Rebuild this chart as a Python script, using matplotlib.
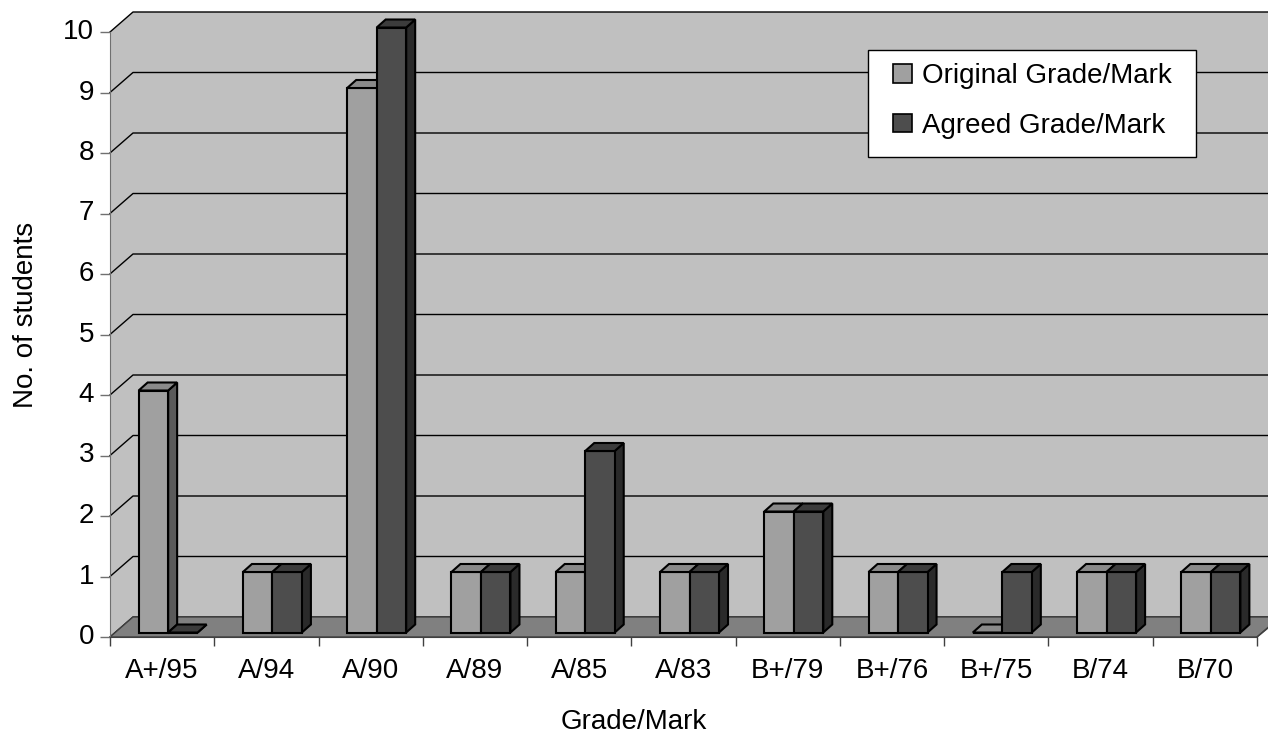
import matplotlib.pyplot as plt
import matplotlib.transforms as mtransforms
from matplotlib.patches import Polygon, Patch, Rectangle

# data
categories = ["A+/95", "A/94", "A/90", "A/89", "A/85", "A/83",
              "B+/79", "B+/76", "B+/75", "B/74", "B/70"]
original = [4, 1, 9, 1, 1, 1, 2, 1, 0, 1, 1]
agreed = [0, 1, 10, 1, 3, 1, 2, 1, 1, 1, 1]
series_names = ["Original Grade/Mark", "Agreed Grade/Mark"]

plt.rcParams["font.family"] = ["Liberation Sans", "DejaVu Sans"]
FS = 20

W, H = 1268, 736
fig = plt.figure(figsize=(W / 100, H / 100), dpi=100)
fig.patch.set_facecolor("white")

# front plane of the pseudo 3D box, in pixels
left_px, right_px = 110, 1257
bot_px, top_px = 637, 32
ax = fig.add_axes([left_px / W, 1 - bot_px / H,
                   (right_px - left_px) / W, (bot_px - top_px) / H])
n = len(categories)
ymax = 10
ax.set_xlim(0, n)
ax.set_ylim(0, ymax)
ax.patch.set_visible(False)

# data units per pixel
px = n / (right_px - left_px)
py = ymax / (bot_px - top_px)

# wall depth
DX, DY = 23 * px, 20 * py

wall = "#C0C0C0"
floor = "#808080"
ax.add_patch(Polygon([(DX, DY), (n + DX + 1, DY), (n + DX + 1, ymax + DY), (DX, ymax + DY)],
                     closed=True, fc=wall, ec="none", clip_on=False, zorder=0))
ax.add_patch(Polygon([(0, 0), (DX, DY), (DX, ymax + DY), (0, ymax)],
                     closed=True, fc=wall, ec="none", clip_on=False, zorder=0))

# gridlines on the walls
for v in range(0, ymax + 1):
    ax.plot([0, DX, n + DX + 1], [v, v + DY, v + DY], color="black", lw=1,
            clip_on=False, zorder=1)

# floor
ax.add_patch(Polygon([(0, 0), (n, 0), (n + DX, DY), (DX, DY)], closed=True,
                     fc=floor, ec="#404040", lw=1, clip_on=False, zorder=2))

# bars
bw = 29.5 * px
bdx, bdy = 6 * px, 4.5 * py      # bars sit a little behind the front plane
ddx, ddy = 9 * px, 8 * py        # bar depth
styles = [("#A0A0A0", "#8A8A8A", "#5A5A5A"),
          ("#4D4D4D", "#3C3C3C", "#2A2A2A")]

for s, vals in enumerate([original, agreed]):
    front, topc, side = styles[s]
    for i, v in enumerate(vals):
        z = 3 + 2 * i + s * 0.5
        xl = i + 0.5 + bdx - bw + s * bw
        xr = xl + bw
        b = bdy
        t = v + bdy
        ax.bar(xl, v, width=bw, bottom=b, align="edge", color=front,
               edgecolor="black", lw=1.5, clip_on=False, zorder=z)
        ax.add_patch(Polygon([(xl, t), (xr, t), (xr + ddx, t + ddy), (xl + ddx, t + ddy)],
                             closed=True, fc=topc, ec="black", lw=1.5, clip_on=False,
                             zorder=z))
        ax.add_patch(Polygon([(xr, b), (xr + ddx, b + ddy), (xr + ddx, t + ddy), (xr, t)],
                             closed=True, fc=side, ec="black", lw=1.5, clip_on=False,
                             zorder=z - 0.1))

# axes lines
for sp in ["top", "right"]:
    ax.spines[sp].set_visible(False)
ax.spines["left"].set_color("#707070")
ax.spines["bottom"].set_color("#404040")
ax.spines["left"].set_zorder(30)
ax.spines["bottom"].set_zorder(30)
ax.plot([n, n + 11 * px], [0, 9 * py], color="#404040", lw=1, clip_on=False, zorder=30)

ax.set_yticks(range(0, ymax + 1))
ax.tick_params(axis="y", length=7.2, width=1, color="#707070", labelsize=FS, pad=4.3)
ax.set_xticks(range(0, n + 1))
ax.set_xticklabels([""] * (n + 1))
ax.set_xticks([i + 0.5 for i in range(n)], minor=True)
ax.set_xticklabels(categories, minor=True)
ax.tick_params(axis="x", which="major", length=6.5, width=1, color="#404040")
ax.tick_params(axis="x", which="minor", length=0, labelsize=FS, pad=15)

shift = mtransforms.ScaledTranslation(0, 0.03, fig.dpi_scale_trans)
for lab in ax.get_yticklabels():
    lab.set_transform(lab.get_transform() + shift)

# axis titles
fig.text(634 / W, 1 - 729 / H, "Grade/Mark", fontsize=FS, ha="center", va="baseline")
fig.text(33 / W, 1 - 315 / H, "No. of students", fontsize=FS, rotation=90,
         rotation_mode="anchor", ha="center", va="baseline")

# legend
fig.patches.append(Rectangle((868 / W, 1 - 157 / H), (1196 - 868) / W, (157 - 50) / H,
                             transform=fig.transFigure, fc="white", ec="black",
                             lw=1, zorder=49))
handles = [Patch(fc=styles[0][0], ec="black", lw=1.2),
           Patch(fc=styles[1][0], ec="black", lw=1.2)]
leg = fig.legend(handles, series_names, loc="upper left",
                 bbox_to_anchor=(893 / W, 1 - 63 / H), fontsize=FS,
                 frameon=False, handlelength=0.68, handleheight=0.65,
                 handletextpad=0.36, labelspacing=0.85, borderpad=0, borderaxespad=0)
leg.set_zorder(50)

fig.savefig("out.png", dpi=100)
